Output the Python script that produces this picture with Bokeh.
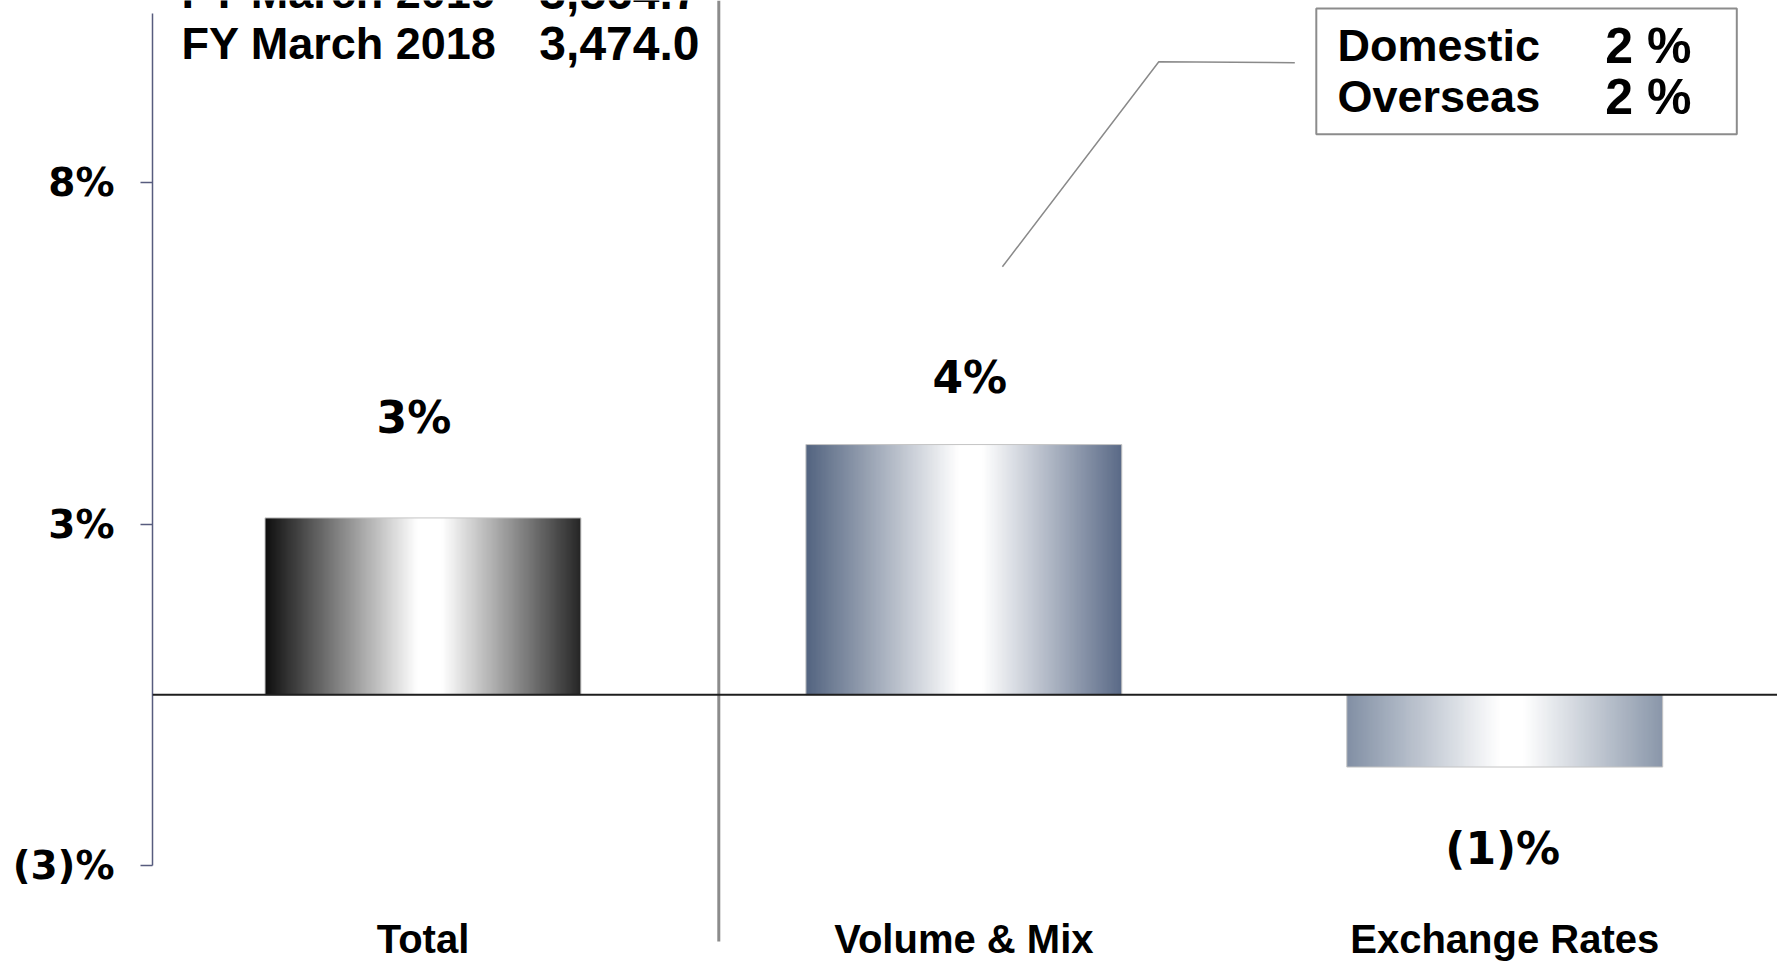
import numpy as np
from bokeh.plotting import figure
from bokeh.models import Range1d, FixedTicker, Span
from bokeh.core.properties import value
from bokeh.embed import file_html
from bokeh.resources import INLINE

# ---------------- data ----------------
categories = ["Total", "Volume & Mix", "Exchange Rates"]
values = [3.11, 4.40, -1.27]
value_labels = ["3%", "4%", "(1)%"]
tick_values = [-3, 3, 9]
tick_labels = ["(3)%", "3%", "8%"]
fy_years = ["FY March 2019", "FY March 2018"]
fy_amounts = ["3,564.7", "3,474.0"]
breakdown_names = ["Domestic", "Overseas"]
breakdown_values = ["2 %", "2 %"]

# ---------------- layout (pixel geometry) ----------------
W, H = 1777, 963
LEFT = 152
PX_PER_CAT = 540.9
PX_PER_PCT = 56.87
ZERO_PX = 694.3
BAR_WIDTH = 0.584

def px2x(px):
    return (px - LEFT) / PX_PER_CAT

def px2y(py):
    return (ZERO_PX - py) / PX_PER_PCT

WIDE = value("DejaVu Sans")
NARROW = value("Liberation Sans")

p = figure(width=W, height=H, output_backend="svg", toolbar_location=None, tools="",
           x_range=Range1d(0, (W - LEFT) / PX_PER_CAT),
           y_range=Range1d(px2y(H), px2y(0)),
           x_axis_location=None, title=None)
p.min_border_left = LEFT
p.min_border_right = 0
p.min_border_top = 0
p.min_border_bottom = 0
p.outline_line_color = None
p.xgrid.visible = False
p.ygrid.visible = False
p.background_fill_color = "white"
p.border_fill_color = "white"

# y axis
ax = p.yaxis[0]
ax.ticker = FixedTicker(ticks=tick_values)
ax.major_label_overrides = {t: l for t, l in zip(tick_values, tick_labels)}
ax.bounds = (tick_values[0], px2y(13))
ax.axis_line_color = "#575c7e"
ax.axis_line_width = 1.5
ax.major_tick_line_color = "#575c7e"
ax.major_tick_line_width = 1.5
ax.major_tick_out = 12
ax.major_tick_in = 0
ax.minor_tick_line_color = None
ax.major_label_standoff = 26
ax.major_label_text_font = "DejaVu Sans"
ax.major_label_text_font_style = "bold"
ax.major_label_text_font_size = "39px"
ax.major_label_text_color = "black"

# ---------------- gradient bars ----------------
stops_t = [0.0, 0.48, 0.56, 1.0]
edge_colors = [((16, 16, 16), (38, 38, 38)),
               ((83, 100, 128), (90, 106, 135)),
               ((130, 144, 165), (138, 151, 170))]

def gradient(left, right, n=256):
    t = np.linspace(0, 1, n)
    img = np.empty((1, n), dtype=np.uint32)
    view = img.view(dtype=np.uint8).reshape((1, n, 4))
    for c in range(3):
        view[0, :, c] = np.interp(t, stops_t, [left[c], 255, 255, right[c]]).astype(np.uint8)
    view[0, :, 3] = 255
    return img

centers = [i + 0.5 for i in range(len(categories))]
lefts = [c - BAR_WIDTH / 2 for c in centers]
bottoms = [min(0, v) for v in values]
tops = [max(0, v) for v in values]
heights = [abs(v) for v in values]

p.image_rgba(image=[gradient(*ec) for ec in edge_colors], x=lefts, y=bottoms,
             dw=[BAR_WIDTH] * 3, dh=heights)
p.quad(left=lefts, right=[l + BAR_WIDTH for l in lefts], bottom=bottoms, top=tops,
       fill_color=None, line_color="#c4c4c4", line_width=1)

p.add_layout(Span(location=0, dimension="width", line_color="#1e1e1e", line_width=2))

# value labels (offsets in screen px from bar end)
p.text(x=centers, y=values, text=value_labels,
       x_offset=[-9, 6, -2], y_offset=[-100, -67, 81],
       text_align="center", text_baseline="middle",
       text_font=WIDE, text_font_style="bold", text_font_size="44px", text_color="black")

# category labels
p.text(x=centers, y=[px2y(938.5)] * 3, text=categories,
       text_align="center", text_baseline="middle",
       text_font=NARROW, text_font_style="bold", text_font_size="40px", text_color="black")

# divider
p.segment(x0=[px2x(718.3)], y0=[px2y(941)], x1=[px2x(718.3)], y1=[px2y(0)],
          line_color="#8c8c8c", line_width=3)

# FY totals
p.text(x=[px2x(181)] * 2, y=[px2y(-8), px2y(43)], text=fy_years,
       text_align="left", text_baseline="middle",
       text_font=NARROW, text_font_style="bold", text_font_size="45px", text_color="black")
p.text(x=[px2x(699)] * 2, y=[px2y(-8), px2y(43)], text=fy_amounts,
       text_align="right", text_baseline="middle",
       text_font=NARROW, text_font_style="bold", text_font_size="48px", text_color="black")

# breakdown callout
p.line(x=[px2x(1001.9), px2x(1158.3), px2x(1294.3)],
       y=[px2y(266.3), px2y(61.2), px2y(62.3)], line_color="#8a8a8a", line_width=1.5)
p.quad(left=[px2x(1315.8)], right=[px2x(1736.3)], top=[px2y(8)], bottom=[px2y(133.7)],
       fill_color="white", line_color="#8c8c8c", line_width=2)
p.text(x=[px2x(1337)] * 2, y=[px2y(45.3), px2y(96.3)], text=breakdown_names,
       text_align="left", text_baseline="middle",
       text_font=NARROW, text_font_style="bold", text_font_size="45px", text_color="black")
p.text(x=[px2x(1691)] * 2, y=[px2y(45.3), px2y(96.3)], text=breakdown_values,
       text_align="right", text_baseline="middle",
       text_font=NARROW, text_font_style="bold", text_font_size="50px", text_color="black")

open("out.html", "w").write(file_html(p, INLINE))
